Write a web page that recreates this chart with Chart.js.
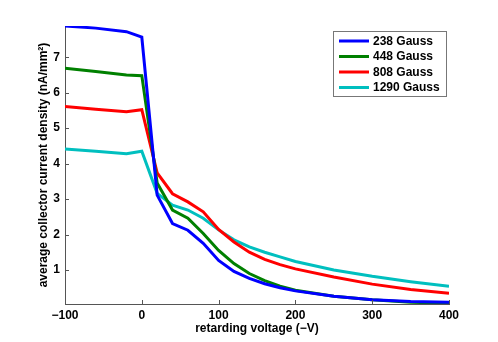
<!DOCTYPE html>
<html>
<head>
<meta charset="utf-8">
<script src="https://cdn.jsdelivr.net/npm/chart.js@4.4.0/dist/chart.umd.min.js"></script>
<style>
  html, body { margin: 0; padding: 0; background: #fff; }
  #wrap { width: 498px; height: 342px; }
</style>
</head>
<body>
<div id="wrap"><canvas id="myChart"></canvas></div>
<script>
// retarding voltage (V)
var voltage = [-100, -60, -20, 0, 20, 40, 60, 80, 100, 120, 140, 160, 180, 200, 250, 300, 350, 400];

var gauss238  = [7.88, 7.82, 7.72, 7.57, 3.11, 2.31, 2.12, 1.75, 1.27, 0.96, 0.76, 0.61, 0.50, 0.41, 0.26, 0.16, 0.11, 0.09];
var gauss448  = [6.69, 6.60, 6.50, 6.48, 3.45, 2.69, 2.46, 2.03, 1.55, 1.18, 0.90, 0.70, 0.54, 0.43, 0.26, 0.16, 0.09, 0.06];
var gauss808  = [5.61, 5.53, 5.46, 5.52, 3.74, 3.15, 2.92, 2.64, 2.14, 1.79, 1.50, 1.30, 1.15, 1.03, 0.80, 0.60, 0.45, 0.34];
var gauss1290 = [4.41, 4.35, 4.28, 4.35, 3.16, 2.83, 2.69, 2.46, 2.13, 1.85, 1.65, 1.50, 1.37, 1.24, 1.00, 0.82, 0.67, 0.54];

var seriesNames = ['238 Gauss', '448 Gauss', '808 Gauss', '1290 Gauss'];
var xTicks = [-100, 0, 100, 200, 300, 400];
var yTicks = [1, 2, 3, 4, 5, 6, 7];

var colors = ['#0000ff', '#008000', '#ff0000', '#00bfbf'];
var fontFamily = '"Liberation Sans", Arial, sans-serif';
var font = 'bold 12px ' + fontFamily;

function points(ys) {
    return voltage.map(function (v, i) { return { x: v, y: ys[i] }; });
}

var allSeries = [gauss238, gauss448, gauss808, gauss1290];
var datasets = allSeries.map(function (ys, i) {
    return {
        label: seriesNames[i],
        data: points(ys),
        borderColor: colors[i],
        backgroundColor: colors[i],
        borderWidth: 3,
        pointRadius: 0,
        tension: 0,
        fill: false
    };
});

// ticks pointing inwards, matlab style
var innerTicks = {
    id: 'innerTicks',
    afterDraw: function (chart) {
        var ctx = chart.ctx, a = chart.chartArea;
        var xs = chart.scales.x, ys = chart.scales.y;
        ctx.save();
        ctx.strokeStyle = '#555';
        ctx.lineWidth = 1;
        ctx.beginPath();
        xTicks.forEach(function (t) {
            var px = Math.round(xs.getPixelForValue(t)) + 0.5;
            ctx.moveTo(px, a.bottom);
            ctx.lineTo(px, a.bottom - 4);
        });
        yTicks.forEach(function (t) {
            var py = Math.round(ys.getPixelForValue(t)) + 0.5;
            ctx.moveTo(a.left, py);
            ctx.lineTo(a.left + 4, py);
        });
        ctx.stroke();
        ctx.restore();
    }
};

// legend box inside the plot, top right
var boxLegend = {
    id: 'boxLegend',
    afterDraw: function (chart) {
        var ctx = chart.ctx;
        var bx = 333, by = 31, bw = 113, bh = 65;
        ctx.save();
        ctx.fillStyle = '#fff';
        ctx.fillRect(bx, by, bw, bh);
        ctx.strokeStyle = '#777';
        ctx.lineWidth = 1;
        ctx.strokeRect(bx + 0.5, by + 0.5, bw, bh);
        ctx.font = font;
        ctx.textBaseline = 'middle';
        chart.data.datasets.forEach(function (ds, i) {
            var y = by + 10 + i * 15.5;
            ctx.strokeStyle = ds.borderColor;
            ctx.lineWidth = 3;
            ctx.beginPath();
            ctx.moveTo(bx + 6, y);
            ctx.lineTo(bx + 36, y);
            ctx.stroke();
            ctx.fillStyle = '#000';
            ctx.fillText(ds.label, bx + 40, y + 0.5);
        });
        ctx.restore();
    }
};

var ctx1 = document.getElementById('myChart').getContext('2d');
var myChart = new Chart(ctx1, {
    type: 'line',
    data: { datasets: datasets },
    plugins: [innerTicks, boxLegend],
    options: {
        responsive: true,
        maintainAspectRatio: false,
        animation: false,
        layout: { padding: { left: 0, right: 49, top: 26, bottom: 0 } },
        scales: {
            x: {
                type: 'linear',
                min: -100,
                max: 400,
                afterFit: function (s) { s.height = 38; },
                afterBuildTicks: function (s) { s.ticks = xTicks.map(function (v) { return { value: v }; }); },
                grid: { display: false, drawTicks: false },
                border: { display: true, color: '#555', width: 1 },
                ticks: {
                    color: '#000',
                    font: { family: fontFamily, size: 12, weight: 'bold' },
                    padding: 4,
                    maxRotation: 0,
                    callback: function (v) { return v < 0 ? '\u2212' + Math.abs(v) : String(v); }
                },
                title: {
                    display: true,
                    text: 'retarding voltage (\u2212V)',
                    color: '#000',
                    font: { family: fontFamily, size: 12, weight: 'bold' },
                    padding: { top: 0, bottom: 6 }
                }
            },
            y: {
                min: 0.04,
                max: 7.88,
                afterFit: function (s) { s.width = 65; },
                afterBuildTicks: function (s) { s.ticks = yTicks.map(function (v) { return { value: v }; }); },
                grid: { display: false, drawTicks: false },
                border: { display: true, color: '#555', width: 1 },
                ticks: {
                    color: '#000',
                    font: { family: fontFamily, size: 12, weight: 'bold' },
                    padding: 5
                },
                title: {
                    display: true,
                    text: 'average collector current density (nA/mm\u00b2)',
                    color: '#000',
                    font: { family: fontFamily, size: 12, weight: 'bold' },
                    padding: { top: 36, bottom: 0 }
                }
            }
        },
        plugins: {
            legend: { display: false },
            tooltip: { enabled: false }
        }
    }
});
</script>
</body>
</html>
